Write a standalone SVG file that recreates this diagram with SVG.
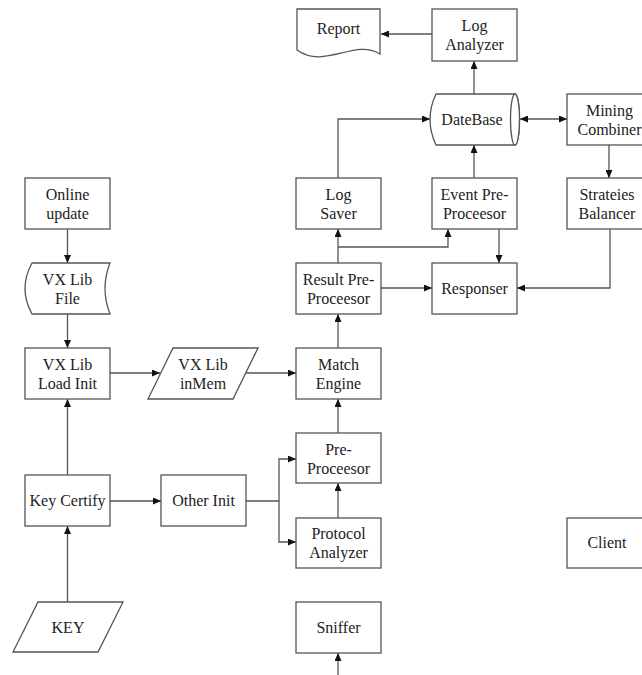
<svg xmlns="http://www.w3.org/2000/svg" width="642" height="675" viewBox="0 0 642 675" font-family="Liberation Serif, Times New Roman, serif">
<style>
.n{fill:#fff;stroke:#555;stroke-width:1.3}
.t{font-size:16px;fill:#222;text-anchor:middle}
.c{fill:none;stroke:#555;stroke-width:1.3}
</style>
<defs>
<marker id="a" markerWidth="8" markerHeight="7" refX="8" refY="3.5" orient="auto-start-reverse" markerUnits="userSpaceOnUse">
<path d="M0,0 L8,3.5 L0,7 z" fill="#111"/>
</marker>
</defs>
<rect width="642" height="675" fill="#fff"/>
<g id="connectors">
<path class="c" d="M432,34 H381" marker-end="url(#a)"/>
<path class="c" d="M474,94 V61" marker-end="url(#a)"/>
<path class="c" d="M338,178 V119 H430" marker-end="url(#a)"/>
<path class="c" d="M520,119 H567" marker-start="url(#a)" marker-end="url(#a)"/>
<path class="c" d="M609,145 V178" marker-end="url(#a)"/>
<path class="c" d="M474,178 V145" marker-end="url(#a)"/>
<path class="c" d="M338,263 V229" marker-end="url(#a)"/>
<path class="c" d="M338,247 H448 V229" marker-end="url(#a)"/>
<path class="c" d="M499,229 V263" marker-end="url(#a)"/>
<path class="c" d="M381,288 H432" marker-end="url(#a)"/>
<path class="c" d="M610,229 V288 H517" marker-end="url(#a)"/>
<path class="c" d="M67.5,229 V263" marker-end="url(#a)"/>
<path class="c" d="M67.5,314 V348" marker-end="url(#a)"/>
<path class="c" d="M110,373 H160" marker-end="url(#a)"/>
<path class="c" d="M246,373 H296" marker-end="url(#a)"/>
<path class="c" d="M338,348 V314" marker-end="url(#a)"/>
<path class="c" d="M67.5,475 V399" marker-end="url(#a)"/>
<path class="c" d="M67.5,602 V526" marker-end="url(#a)"/>
<path class="c" d="M110,501 H161" marker-end="url(#a)"/>
<path class="c" d="M246,501 H279 V459 H296" marker-end="url(#a)"/>
<path class="c" d="M279,501 V542 H296" marker-end="url(#a)"/>
<path class="c" d="M338,433 V399" marker-end="url(#a)"/>
<path class="c" d="M338,518 V483" marker-end="url(#a)"/>
<path class="c" d="M338,675 V653" marker-end="url(#a)"/>
</g>
<g id="report"><path class="n" d="M297,9 H380 V54 C355,38 325,70 297,50 Z"/><text class="t" x="338.5" y="34">Report</text></g>
<g id="log-analyzer"><rect class="n" x="432" y="9" width="85" height="52"/><text class="t" x="474.5" y="31">Log</text><text class="t" x="474.5" y="50">Analyzer</text></g>
<g id="datebase"><path class="n" d="M436,94 H515 A4.5,25.5 0 0 1 515,145 H436 Q424,119.5 436,94 Z"/><ellipse class="n" cx="515" cy="119.5" rx="4.5" ry="25.5"/><text class="t" x="472" y="125">DateBase</text></g>
<g id="mining-combiner"><rect class="n" x="567" y="94" width="85" height="51"/><text class="t" x="609.5" y="116">Mining</text><text class="t" x="609.5" y="135">Combiner</text></g>
<g id="log-saver"><rect class="n" x="296" y="178" width="85" height="51"/><text class="t" x="338.5" y="200">Log</text><text class="t" x="338.5" y="219">Saver</text></g>
<g id="event-pre"><rect class="n" x="432" y="178" width="85" height="51"/><text class="t" x="474.5" y="200">Event Pre-</text><text class="t" x="474.5" y="219">Proceesor</text></g>
<g id="strateies-balancer"><rect class="n" x="567" y="178" width="85" height="51"/><text class="t" x="607" y="200">Strateies</text><text class="t" x="607" y="219">Balancer</text></g>
<g id="online-update"><rect class="n" x="25" y="178" width="85" height="51"/><text class="t" x="67.5" y="200">Online</text><text class="t" x="67.5" y="219">update</text></g>
<g id="result-pre"><rect class="n" x="296" y="263" width="85" height="51"/><text class="t" x="338.5" y="285">Result Pre-</text><text class="t" x="338.5" y="304">Proceesor</text></g>
<g id="responser"><rect class="n" x="432" y="263" width="85" height="51"/><text class="t" x="474.5" y="294">Responser</text></g>
<g id="vx-lib-file"><path class="n" d="M32,263 H110 Q100,288.5 110,314 H32 Q18,288.5 32,263 Z"/><text class="t" x="67.5" y="285">VX Lib</text><text class="t" x="67.5" y="304">File</text></g>
<g id="vx-lib-load-init"><rect class="n" x="25" y="348" width="85" height="51"/><text class="t" x="67.5" y="370">VX Lib</text><text class="t" x="67.5" y="389">Load Init</text></g>
<g id="vx-lib-inmem"><path class="n" d="M173,348 H258 L233,399 H148 Z"/><text class="t" x="203" y="370">VX Lib</text><text class="t" x="203" y="389">inMem</text></g>
<g id="match-engine"><rect class="n" x="296" y="348" width="85" height="51"/><text class="t" x="338.5" y="370">Match</text><text class="t" x="338.5" y="389">Engine</text></g>
<g id="pre-proceesor"><rect class="n" x="296" y="433" width="85" height="50"/><text class="t" x="338.5" y="455">Pre-</text><text class="t" x="338.5" y="474">Proceesor</text></g>
<g id="key-certify"><rect class="n" x="25" y="475" width="85" height="51"/><text class="t" x="67.5" y="506">Key Certify</text></g>
<g id="other-init"><rect class="n" x="161" y="475" width="85" height="51"/><text class="t" x="203.5" y="506">Other Init</text></g>
<g id="protocol-analyzer"><rect class="n" x="296" y="518" width="85" height="50"/><text class="t" x="338.5" y="539">Protocol</text><text class="t" x="338.5" y="558">Analyzer</text></g>
<g id="client"><rect class="n" x="567" y="518" width="85" height="50"/><text class="t" x="607" y="548">Client</text></g>
<g id="key"><path class="n" d="M38,602 H123 L98,652 H13 Z"/><text class="t" x="68" y="633">KEY</text></g>
<g id="sniffer"><rect class="n" x="296" y="602" width="85" height="51"/><text class="t" x="338.5" y="633">Sniffer</text></g>
</svg>
